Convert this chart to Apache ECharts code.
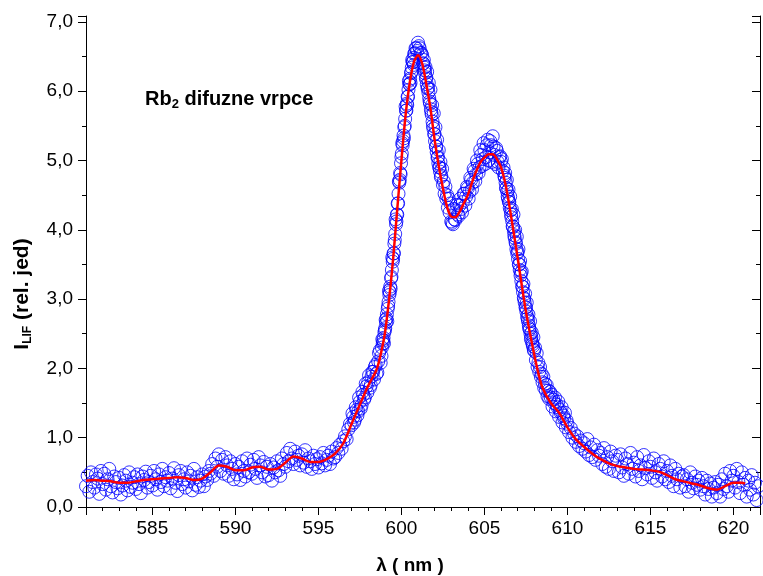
<!DOCTYPE html>
<html><head><meta charset="utf-8">
<script src="https://cdn.jsdelivr.net/npm/echarts@6/dist/echarts.min.js"></script>
<style>html,body{margin:0;padding:0;background:#fff}#c{width:763px;height:576px}</style>
</head><body><div id="c"></div>
<script>
// measured LIF signal, sampled every 0.1 nm from 581.0 nm
const scatterStart = 581.0;
const scatterStep = 0.1;
const scatterY = [
0.30,0.45,0.22,0.50,0.36,0.28,0.47,0.41,0.19,0.52,
0.33,0.48,0.25,0.40,0.55,0.30,0.21,0.44,0.36,0.27,
0.42,0.18,0.31,0.46,0.38,0.24,0.50,0.29,0.35,0.43,
0.26,0.47,0.33,0.20,0.44,0.39,0.51,0.28,0.36,0.45,
0.31,0.52,0.40,0.25,0.47,0.36,0.55,0.30,0.43,0.38,
0.49,0.27,0.41,0.56,0.35,0.23,0.46,0.52,0.33,0.40,
0.28,0.50,0.37,0.45,0.24,0.55,0.32,0.43,0.29,0.38,
0.47,0.30,0.44,0.39,0.52,0.48,0.62,0.45,0.70,0.58,
0.76,0.52,0.68,0.48,0.72,0.60,0.45,0.66,0.55,0.40,
0.62,0.47,0.58,0.39,0.66,0.52,0.44,0.70,0.50,0.61,
0.48,0.68,0.55,0.42,0.72,0.60,0.50,0.65,0.44,0.58,
0.46,0.62,0.38,0.57,0.50,0.66,0.53,0.45,0.70,0.62,
0.58,0.78,0.66,0.84,0.70,0.62,0.80,0.68,0.74,0.60,
0.76,0.64,0.82,0.58,0.70,0.66,0.55,0.74,0.62,0.69,
0.57,0.72,0.63,0.78,0.60,0.68,0.74,0.62,0.80,0.70,
0.72,0.85,0.78,0.90,0.84,0.95,1.02,0.98,1.12,1.20,
1.18,1.30,1.26,1.40,1.38,1.52,1.47,1.62,1.58,1.74,
1.80,1.72,1.88,1.95,2.02,1.92,2.10,2.26,2.18,2.40,
2.55,2.72,2.90,3.10,3.32,3.58,3.85,4.12,4.38,4.72,
5.05,5.28,5.50,5.72,5.92,6.10,6.28,6.42,6.55,6.62,
6.70,6.62,6.55,6.40,6.30,6.20,6.05,5.85,5.70,5.50,
5.38,5.20,5.05,4.90,4.78,4.65,4.52,4.45,4.32,4.25,
4.12,4.08,4.15,4.28,4.22,4.35,4.30,4.40,4.52,4.48,
4.60,4.55,4.72,4.68,4.85,4.80,4.95,4.90,5.08,5.02,
5.15,5.05,5.30,5.12,5.22,5.35,5.08,5.18,4.98,5.05,
4.98,4.85,4.78,4.60,4.48,4.40,4.22,4.05,3.92,3.80,
3.68,3.50,3.38,3.18,3.00,2.88,2.72,2.58,2.42,2.35,
2.25,2.12,2.02,1.95,1.88,1.80,1.72,1.68,1.60,1.56,
1.58,1.45,1.50,1.38,1.44,1.30,1.36,1.22,1.28,1.15,
1.20,1.08,1.14,1.00,1.06,0.94,1.02,0.88,0.96,0.84,
0.92,0.80,0.98,0.75,0.86,0.72,0.90,0.68,0.82,0.74,
0.78,0.62,0.85,0.58,0.72,0.55,0.80,0.66,0.52,0.74,
0.68,0.50,0.76,0.57,0.45,0.70,0.62,0.48,0.78,0.55,
0.64,0.44,0.72,0.52,0.60,0.40,0.75,0.56,0.47,0.66,
0.58,0.42,0.70,0.50,0.38,0.62,0.55,0.44,0.66,0.40,
0.52,0.36,0.60,0.45,0.30,0.55,0.40,0.48,0.28,0.44,
0.46,0.30,0.40,0.22,0.50,0.35,0.27,0.44,0.32,0.38,
0.25,0.42,0.30,0.18,0.38,0.26,0.34,0.15,0.28,0.36,
0.20,0.32,0.15,0.40,0.26,0.48,0.30,0.22,0.52,0.38,
0.45,0.28,0.55,0.36,0.20,0.50,0.32,0.42,0.15,0.38,
0.25,0.46,0.18,0.35,0.10,0.30
];
// second, interleaved set of measured points (597.05 nm onward, every 0.1 nm)
const scatter2Start = 597.05;
const scatterY2 = [
1.35,1.22,1.44,1.32,1.58,1.42,1.66,1.55,1.78,1.65,
1.90,1.76,1.95,1.84,2.05,1.94,2.22,2.08,2.42,2.36,
2.70,2.68,3.12,3.15,3.60,3.66,4.15,4.22,4.70,4.80,
5.25,5.32,5.78,5.80,6.15,6.12,6.45,6.38,6.62,6.58,
6.65,6.55,6.52,6.45,6.35,6.28,6.12,6.02,5.80,5.68,
5.48,5.30,5.15,4.98,4.88,4.70,4.62,4.50,4.45,4.38,
4.10,4.30,4.14,4.36,4.20,4.45,4.25,4.52,4.35,4.62,
4.45,4.75,4.58,4.88,4.70,5.00,4.82,5.15,4.92,5.25,
4.95,5.22,5.00,5.28,4.98,5.20,4.95,5.14,4.90,5.06,
5.02,4.90,4.82,4.72,4.58,4.48,4.30,4.22,4.00,3.90,
3.72,3.55,3.40,3.22,3.08,2.95,2.78,2.68,2.52,2.45,
2.30,2.22,2.08,2.02,1.92,1.88,1.78,1.76,1.68,1.66,
1.62,1.55,1.58,1.48,1.52,1.40,1.44,1.32,1.36,1.25
];
// extra measured points on the steep flanks [wavelength, intensity]
const steepPoints = [
[598.825,2.30],[598.875,2.36],[598.925,2.44],[598.975,2.52],
[599.025,2.58],[599.075,2.66],[599.125,2.78],[599.175,2.86],[599.225,2.96],[599.275,3.06],[599.325,3.18],[599.375,3.30],[599.425,3.42],[599.475,3.54],
[599.525,3.66],[599.575,3.80],[599.625,3.94],[599.675,4.08],[599.725,4.22],[599.775,4.38],[599.825,4.52],[599.875,4.68],[599.925,4.82],[599.975,4.96],
[600.025,5.10],[600.075,5.22],[600.125,5.36],[600.175,5.48],[600.225,5.60],[600.275,5.72],[600.325,5.82],[600.375,5.92],[600.425,6.02],[600.475,6.10],
[600.525,6.18],[600.575,6.26],[600.625,6.34],[600.675,6.42],[600.725,6.48],[600.775,6.54],
[601.325,6.40],[601.375,6.34],[601.425,6.26],[601.475,6.18],[601.525,6.10],[601.575,6.04],[601.625,5.98],[601.675,5.90],[601.725,5.82],[601.775,5.74],
[601.825,5.66],[601.875,5.56],[601.925,5.46],[601.975,5.38],[602.025,5.28],[602.075,5.20],[602.125,5.12],[602.175,5.04],[602.225,4.96],[602.275,4.90],
[602.325,4.84],[602.375,4.76],
[606.225,4.75],[606.275,4.68],[606.325,4.60],[606.375,4.55],[606.425,4.45],[606.475,4.40],[606.525,4.32],[606.575,4.28],[606.625,4.18],[606.675,4.12],
[606.725,4.04],[606.775,3.98],[606.825,3.88],[606.875,3.82],[606.925,3.72],[606.975,3.66],[607.025,3.58],[607.075,3.50],[607.125,3.42],[607.175,3.34],
[607.225,3.26],[607.275,3.18],[607.325,3.10],[607.375,3.02],[607.425,2.95],[607.475,2.88],[607.525,2.82],[607.575,2.75],[607.625,2.68],[607.675,2.62],
[607.725,2.56],[607.775,2.50],[607.825,2.45],[607.875,2.38],[607.925,2.32],[607.975,2.27]
];
// fitted curve
const fitX = [581.0,581.5,582.0,582.5,583.0,583.5,584.0,584.5,585.0,585.5,586.0,586.5,587.0,587.5,588.0,588.5,589.0,589.5,590.0,590.5,591.0,591.5,592.0,592.5,593.0,593.5,594.0,594.5,595.0,595.5,596.0,596.5,597.0,597.5,598.0,598.5,598.75,599.0,599.25,599.5,599.75,600.0,600.25,600.5,600.75,601.0,601.25,601.5,601.75,602.0,602.25,602.5,602.75,603.0,603.25,603.5,603.75,604.0,604.25,604.5,604.75,605.0,605.25,605.5,605.75,606.0,606.25,606.5,606.75,607.0,607.25,607.5,607.75,608.0,608.25,608.5,609.0,609.5,610.0,610.5,611.0,611.5,612.0,612.5,613.0,613.5,614.0,614.5,615.0,615.5,616.0,616.5,617.0,617.5,618.0,618.5,619.0,619.5,620.0,620.5,620.7];
const fitY = [0.38,0.39,0.38,0.37,0.35,0.35,0.37,0.39,0.40,0.41,0.42,0.43,0.42,0.39,0.41,0.50,0.60,0.58,0.53,0.53,0.57,0.58,0.54,0.55,0.64,0.73,0.70,0.65,0.65,0.69,0.77,0.92,1.20,1.48,1.75,1.98,2.20,2.50,2.98,3.58,4.30,5.00,5.65,6.12,6.42,6.52,6.40,6.10,5.75,5.30,4.92,4.60,4.33,4.19,4.18,4.26,4.38,4.50,4.68,4.84,4.97,5.04,5.09,5.09,5.02,4.90,4.68,4.35,3.98,3.60,3.20,2.82,2.50,2.20,1.93,1.72,1.50,1.36,1.15,0.98,0.87,0.77,0.69,0.63,0.59,0.57,0.55,0.54,0.53,0.51,0.46,0.40,0.37,0.34,0.31,0.27,0.25,0.30,0.35,0.35,0.34];
const xTickValues = [585,590,595,600,605,610,615,620];
const xTickLabels = ['585','590','595','600','605','610','615','620'];
const yTickValues = [0,1,2,3,4,5,6,7];
const yTickLabels = ['0,0','1,0','2,0','3,0','4,0','5,0','6,0','7,0'];

const scatterData = scatterY.map((y, i) => [+(scatterStart + i * scatterStep).toFixed(2), y])
  .concat(scatterY2.map((y, i) => [+(scatter2Start + i * scatterStep).toFixed(2), y]))
  .concat(steepPoints);
const fitData = fitX.map((x, i) => [x, fitY[i]]);

function lookup(vals, labels, v) {
  for (let i = 0; i < vals.length; i++) if (Math.abs(vals[i] - v) < 1e-6) return labels[i];
  return '';
}
const FONT = 'Liberation Sans, Arial, sans-serif';
const axisLine = { show: true, lineStyle: { color: '#000', width: 1 } };
const xBase = { type: 'value', min: 581, max: 621.6, splitNumber: 8, splitLine: { show: false }, axisLine: axisLine };
const yBase = { type: 'value', min: 0, max: 7.085, splitNumber: 7, splitLine: { show: false }, axisLine: axisLine };

const chart = echarts.init(document.getElementById('c'), null, { renderer: 'canvas' });
chart.setOption({
  animation: false,
  backgroundColor: '#fff',
  grid: { left: 86, right: 1, top: 16, bottom: 69, containLabel: false },
  xAxis: [
    Object.assign({}, xBase, {
      position: 'bottom',
      axisTick: { show: true, inside: false, length: 8, lineStyle: { color: '#000' } },
      minorTick: { show: true, splitNumber: 5, length: 4, lineStyle: { color: '#000' } },
      axisLabel: { margin: 12, color: '#000', fontSize: 19, fontFamily: FONT,
        showMinLabel: true, showMaxLabel: true,
        formatter: v => lookup(xTickValues, xTickLabels, v) }
    }),
    Object.assign({}, xBase, {
      position: 'top',
      axisTick: { show: true, inside: true, length: 8, lineStyle: { color: '#000' } },
      minorTick: { show: true, splitNumber: 5, length: 4, lineStyle: { color: '#000' } },
      axisLabel: { show: false }
    })
  ],
  yAxis: [
    Object.assign({}, yBase, {
      position: 'left',
      axisTick: { show: true, inside: false, length: 8, lineStyle: { color: '#000' } },
      minorTick: { show: true, splitNumber: 2, length: 4, lineStyle: { color: '#000' } },
      axisLabel: { margin: 13, color: '#000', fontSize: 19, fontFamily: FONT,
        formatter: v => lookup(yTickValues, yTickLabels, v) }
    }),
    Object.assign({}, yBase, {
      position: 'right',
      axisTick: { show: true, inside: true, length: 8, lineStyle: { color: '#000' } },
      minorTick: { show: true, splitNumber: 2, length: 4, lineStyle: { color: '#000' } },
      axisLabel: { show: false }
    })
  ],
  series: [
    {
      type: 'scatter', xAxisIndex: 0, yAxisIndex: 0, data: scatterData,
      symbol: 'circle', symbolSize: 13,
      itemStyle: { color: 'rgba(0,0,0,0)', borderColor: '#0000ff', borderWidth: 1 },
      emphasis: { disabled: true }, z: 2
    },
    {
      type: 'line', xAxisIndex: 0, yAxisIndex: 0, data: fitData,
      smooth: 0.3, showSymbol: false, symbol: 'none',
      lineStyle: { color: '#ff0000', width: 2.5 }, z: 3
    }
  ],
  graphic: [
    { type: 'text', left: 145, top: 89, z: 10,
      style: { text: '{a|Rb}{s|2}{a| difuzne vrpce}', fill: '#000',
        rich: { a: { fontSize: 20, fontWeight: 'bold', fontFamily: FONT, fill: '#000' },
                s: { fontSize: 13, fontWeight: 'bold', fontFamily: FONT, fill: '#000', padding: [10, 0, 0, 0] } } } },
    { type: 'text', x: 410, y: 566, z: 10,
      style: { text: 'λ ( nm )', fill: '#000', font: 'bold 19px ' + FONT, align: 'center', verticalAlign: 'middle' } },
    { type: 'text', x: 22, y: 294, rotation: Math.PI / 2, z: 10,
      style: { text: '{a|I}{s|LIF}{a| (rel. jed)}', align: 'center', verticalAlign: 'middle', fill: '#000',
        rich: { a: { fontSize: 21, fontWeight: 'bold', fontFamily: FONT, fill: '#000' },
                s: { fontSize: 12, fontWeight: 'bold', fontFamily: FONT, fill: '#000', padding: [12, 0, 0, 0] } } } }
  ]
});
</script>
</body></html>
